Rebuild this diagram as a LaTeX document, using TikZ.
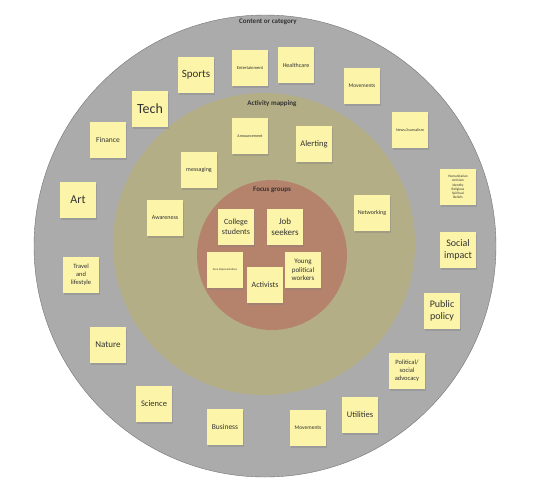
\documentclass[tikz,border=0pt]{standalone}
\usepackage{fontspec}
\setmainfont{Carlito}
\usetikzlibrary{shadows}
\definecolor{ringgray}{HTML}{ABABAB}
\definecolor{ringolive}{HTML}{B3AE85}
\definecolor{ringbrown}{HTML}{B5836C}
\definecolor{noteyellow}{HTML}{FBF4A9}
\definecolor{notetext}{HTML}{333333}
\newcommand{\fs}[1]{\fontsize{#1}{1.2\dimexpr#1pt\relax}\selectfont}

\begin{document}
\begin{tikzpicture}[x=1pt,y=-1pt,
  note/.style={fill=noteyellow,minimum size=36pt,inner sep=1pt,text width=34pt,
    align=center,text=notetext,
    drop shadow={shadow xshift=0.5pt,shadow yshift=-1.8pt,opacity=0.35}},
  ringlabel/.style={font=\bfseries\fs{7},text=notetext}]
  \useasboundingbox (0,0) rectangle (543,488);
  \fill[white] (0,0) rectangle (543,488);
  % rings
  \filldraw[fill=ringgray,draw=gray!90!black,line width=0.4pt] (265,246) circle (231);
  \fill[ringolive] (264,244) circle (151);
  \fill[ringbrown] (272,255) circle (75);
  \node[ringlabel] (content) at (268,22) {Content or category};
  \node[ringlabel] (activity) at (272,104) {Activity mapping};
  \node[ringlabel] (focus) at (272,190) {Focus groups};
  % outer ring: content or category
  \node[note,font=\fs{11}] (sports) at (196,75) {Sports};
  \node[note,font=\fs{4.5}] (entertain) at (250,68) {Entertainment};
  \node[note,font=\fs{6}] (health) at (296,65) {Healthcare};
  \node[note,font=\fs{5.5}] (movetop) at (362,86) {Movements};
  \node[note,font=\fs{4}] (news) at (410,130) {News/Journalism};
  \node[note,font=\fs{3.5}] (human) at (458,187) {Humanitarian\\Activism\\Identity\\Religious\\Spiritual\\Beliefs};
  \node[note,font=\fs{10}] (social) at (458,250) {Social impact};
  \node[note,font=\fs{10}] (policy) at (442,311) {Public policy};
  \node[note,font=\fs{6.5}] (advocacy) at (407,371) {Political/\\social\\advocacy};
  \node[note,font=\fs{8.5}] (utilities) at (360,415) {Utilities};
  \node[note,font=\fs{5.5}] (movebot) at (308,428) {Movements};
  \node[note,font=\fs{7.5}] (business) at (225,427) {Business};
  \node[note,font=\fs{8.5}] (science) at (154,404) {Science};
  \node[note,font=\fs{9}] (nature) at (108,345) {Nature};
  \node[note,font=\fs{6.5}] (travel) at (81,275) {Travel\\and\\lifestyle};
  \node[note,font=\fs{12}] (art) at (78,200) {Art};
  \node[note,font=\fs{7.5}] (finance) at (108,140) {Finance};
  \node[note,font=\fs{14}] (tech) at (150,109) {Tech};
  % middle ring: activity mapping
  \node[note,font=\fs{4}] (announce) at (250,136) {Announcement};
  \node[note,font=\fs{8.5}] (alerting) at (314,144) {Alerting};
  \node[note,font=\fs{6}] (messaging) at (199,170) {messaging};
  \node[note,font=\fs{6}] (awareness) at (165,218) {Awareness};
  \node[note,font=\fs{6}] (networking) at (372,213) {Networking};
  % inner ring: focus groups
  \node[note,font=\fs{8}] (college) at (236,227) {College students};
  \node[note,font=\fs{9}] (jobs) at (285,227) {Job seekers};
  \node[note,font=\fs{2.8}] (area) at (225,270) {Area Representatives};
  \node[note,font=\fs{8}] (activists) at (265,285) {Activists};
  \node[note,font=\fs{7}] (young) at (303,270) {Young political workers};
\end{tikzpicture}
\end{document}
